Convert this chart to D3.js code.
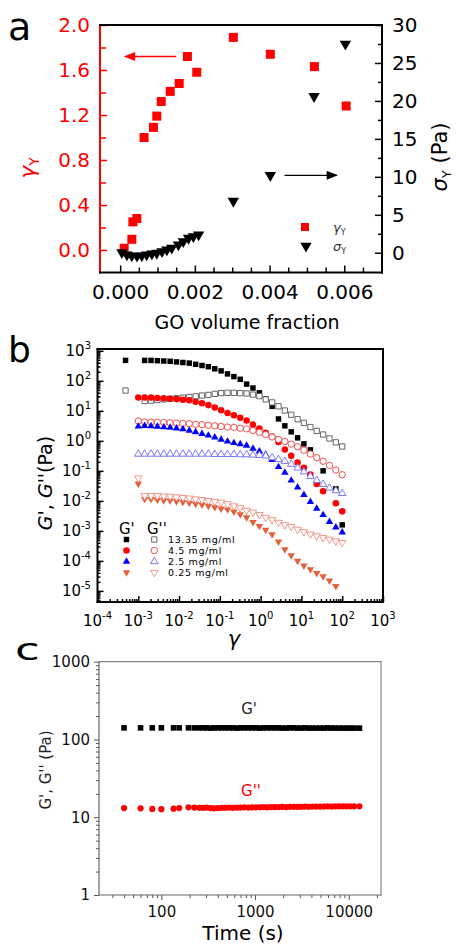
<!DOCTYPE html>
<html>
<head>
<meta charset="utf-8">
<script src="https://cdnjs.cloudflare.com/ajax/libs/d3/7.8.5/d3.min.js"></script>
<style>
body { margin: 0; background: #fff; }
svg text { font-family: "DejaVu Sans", sans-serif; }
</style>
</head>
<body>
<div id="fig"></div>
<script>
// ---------- panel a data ----------
var goFracStrain = [0.000107, 0.000313, 0.00034, 0.000447, 0.00064, 0.00089, 0.00098, 0.0011, 0.00134, 0.00158, 0.0018, 0.00205, 0.00303, 0.00402, 0.0052, 0.00605];
var yieldStrain  = [0.015, 0.095, 0.25, 0.28, 1.0, 1.09, 1.19, 1.32, 1.41, 1.48, 1.72, 1.58, 1.89, 1.74, 1.63, 1.28];
var goFracStress = [0.000046, 0.00018, 0.00031, 0.00045, 0.00058, 0.00071, 0.00085, 0.00098, 0.00112, 0.00125, 0.00138, 0.00156, 0.00169, 0.00183, 0.00196, 0.0021, 0.00303, 0.00402, 0.00519, 0.00603];
var yieldStress  = [0.04, -0.26, -0.39, -0.43, -0.39, -0.26, -0.13, -0.04, 0.17, 0.39, 0.62, 1.05, 1.49, 1.93, 2.14, 2.37, 6.8, 10.2, 20.6, 27.5];
var strainTicks = [0, 0.4, 0.8, 1.2, 1.6, 2.0];
var stressTicks = [0, 5, 10, 15, 20, 25, 30];
var fracTicks = [0, 0.002, 0.004, 0.006];

// ---------- panel b data (log10 of modulus in Pa; null = no marker) ----------
var strain = [4.87e-4, 6.98e-4, 1.00e-3, 1.43e-3, 2.05e-3, 2.94e-3, 4.22e-3, 6.04e-3, 8.66e-3, 0.0124,
  0.0178, 0.0255, 0.0365, 0.0523, 0.0750, 0.1075, 0.154, 0.221, 0.316, 0.453,
  0.649, 0.931, 1.33, 1.91, 2.74, 3.92, 5.62, 8.06, 11.5, 16.6,
  23.7, 34.0, 48.7, 69.8, 100];
var logGp13 = [2.68, null, null, 2.68, 2.68, 2.67, 2.66, 2.65, 2.63, 2.61, 2.59, 2.55, 2.51, 2.47, 2.40, 2.33, 2.23, 2.14, 2.05, 1.89, 1.76, 1.60, 1.40, 1.15, 0.73, 0.50, 0.30, 0.10, -0.10, -0.30, null, -1.0, null, -1.6, -2.8];
var logGpp13 = [1.677, null, null, 1.33, 1.34, 1.36, 1.38, 1.40, 1.42, 1.44, 1.46, 1.48, 1.51, 1.53, 1.565, 1.59, 1.60, 1.60, 1.59, 1.58, 1.54, 1.49, 1.38, 1.28, 1.15, 1.01, 0.87, 0.72, 0.60, 0.46, 0.33, 0.21, 0.08, -0.05, -0.19];
var logGp45 = [null, null, 1.443, 1.443, 1.44, 1.43, 1.42, 1.405, 1.39, 1.37, 1.35, 1.30, 1.25, 1.19, 1.11, 1.02, 0.93, 0.85, 0.77, 0.68, 0.54, 0.41, 0.27, 0.14, -0.04, -0.29, -0.50, -0.72, -0.90, -1.12, -1.44, -1.68, null, -2.08, -2.35];
var logGpp45 = [null, null, 0.66, 0.63, 0.62, 0.62, 0.61, 0.60, 0.59, 0.58, 0.57, 0.55, 0.54, 0.52, 0.50, 0.48, 0.46, 0.45, 0.42, 0.40, 0.34, 0.28, 0.21, 0.13, 0.05, -0.02, -0.11, -0.20, -0.31, -0.44, -0.56, -0.68, -0.82, -0.97, -1.13];
var logGp25 = [null, null, 0.48, 0.50, 0.49, 0.475, 0.455, 0.44, 0.42, 0.39, 0.345, 0.29, 0.235, 0.18, 0.115, 0.04, -0.02, -0.07, -0.11, -0.16, -0.26, -0.35, -0.46, -0.63, -0.87, -1.06, -1.32, -1.55, -1.80, -2.03, -2.26, -2.47, -2.70, -2.88, -3.05];
var logGpp25 = [null, null, -0.44, -0.44, -0.44, -0.44, -0.44, -0.44, -0.44, -0.44, -0.44, -0.44, -0.44, -0.44, -0.45, -0.45, -0.45, -0.45, -0.46, -0.46, -0.47, -0.48, -0.50, -0.56, -0.62, -0.68, -0.78, -0.90, -1.03, -1.18, -1.32, -1.45, -1.57, -1.66, -1.75];
var logGp025 = [null, null, -1.43, -1.94, -1.94, -1.965, -1.985, -1.99, -2.02, -2.04, -2.065, -2.10, -2.13, -2.17, -2.215, -2.26, -2.29, -2.36, -2.45, -2.55, -2.71, -2.84, -2.97, -3.12, -3.36, -3.62, -3.82, -4.00, -4.16, -4.28, -4.41, -4.52, -4.66, -4.84, null];
var logGpp025 = [null, null, -1.24, -1.83, -1.83, -1.83, -1.84, -1.85, -1.87, -1.89, -1.91, -1.94, -1.96, -1.99, -2.02, -2.05, -2.10, -2.17, -2.23, -2.32, -2.38, -2.46, -2.55, -2.63, -2.72, -2.80, -2.86, -2.95, -3.03, -3.11, -3.17, -3.23, -3.28, -3.34, -3.39];
var concLabels = ["13.35 mg/ml", "4.5 mg/ml", "2.5 mg/ml", "0.25 mg/ml"];
var decadesX = [-4, -3, -2, -1, 0, 1, 2, 3];
var decadesY = [-5, -4, -3, -2, -1, 0, 1, 2, 3];

// ---------- panel c data ----------
var timeS = [40, 60, 80, 100, 135, 155, 195, 225, 255, 280, 305, 335, 365, 400, 440, 480, 530, 580, 640, 700,
  770, 850, 930, 1020, 1120, 1230, 1350, 1480, 1620, 1780, 1950, 2140, 2350, 2580, 2830, 3100, 3400, 3730, 4100, 4500,
  4940, 5420, 5950, 6530, 7170, 7870, 8640, 9480, 10400, 11400, 13000];
var gPrime = [141, 141, 141, 141, 141, 141, 141, 141, 141, 141, 141, 140, 141, 141, 141, 141, 141, 141, 140, 141,
  141, 141, 141, 141, 140, 141, 141, 141, 141, 141, 140, 140, 141, 141, 140, 140, 141, 140, 140, 140,
  140, 140, 141, 140, 140, 140, 140, 140, 140, 140, 140];
var gDouble = [13.1, 13.0, 12.8, 12.7, 12.9, 13.1, 13.4, 13.3, 13.2, 13.2, 13.3, 13.1, 13.0, 13.1, 13.2, 13.2, 13.3, 13.2, 13.3, 13.3,
  13.4, 13.3, 13.4, 13.4, 13.4, 13.5, 13.4, 13.5, 13.5, 13.5, 13.6, 13.5, 13.6, 13.6, 13.6, 13.6, 13.7, 13.6, 13.7, 13.7,
  13.7, 13.7, 13.8, 13.7, 13.8, 13.8, 13.8, 13.8, 13.8, 13.8, 13.8];
var timeTicks = [100, 1000, 10000];
var modTicks = [1, 10, 100, 1000];

var svg = d3.select("#fig").append("svg")
    .attr("width", 457)
    .attr("height", 945);

function styleAxis(g, color, fs) {
    g.select(".domain").remove();
    g.selectAll(".tick line").attr("stroke", color).attr("stroke-width", 1.5);
    g.selectAll(".tick text").attr("fill", color).attr("font-size", fs)
        .attr("font-family", "DejaVu Sans, sans-serif");
}

function boxLines(g, x0, x1, y0, y1, colors, w) {
    // colors: [left, bottom, right, top]
    var segs = [[x0, y0, x0, y1], [x0, y1, x1, y1], [x1, y0, x1, y1], [x0, y0, x1, y0]];
    segs.forEach(function (s, i) {
        g.append("line").attr("x1", s[0]).attr("y1", s[1]).attr("x2", s[2]).attr("y2", s[3])
            .attr("stroke", colors[i]).attr("stroke-width", w).attr("stroke-linecap", "square");
    });
}

// ===================== panel a =====================
var xA = d3.scaleLinear().domain([-0.00054, 0.00701]).range([100, 382]);
var yAL = d3.scaleLinear().domain([-0.2, 2.0]).range([272.5, 25]);
var yAR = d3.scaleLinear().domain([-2.6, 30]).range([272.5, 25]);
var ga = svg.append("g");

var strainPts = goFracStrain.map(function (x, i) { return { x: x, y: yieldStrain[i] }; });
var stressPts = goFracStress.map(function (x, i) { return { x: x, y: yieldStress[i] }; });

ga.selectAll(".sqA").data(strainPts).enter().append("rect")
    .attr("x", d => xA(d.x) - 4.5)
    .attr("y", d => yAL(d.y) - 4.5)
    .attr("width", 9).attr("height", 9)
    .attr("fill", "#ff0000");

var triDown = d3.symbol().type(d3.symbolTriangle).size(56);
ga.selectAll(".triA").data(stressPts).enter().append("path")
    .attr("d", triDown)
    .attr("transform", d => `translate(${xA(d.x)},${yAR(d.y)}) rotate(180)`)
    .attr("fill", "#000");

// axes of panel a
ga.append("g").attr("transform", "translate(100,0)")
    .call(d3.axisLeft(yAL).tickValues([0.2, 0.6, 1.0, 1.4, 1.8]).tickFormat("").tickSize(-6))
    .call(styleAxis, "#ff0000", 20);
ga.append("g").attr("transform", "translate(100,0)")
    .call(d3.axisLeft(yAL).tickValues(strainTicks).tickFormat(d3.format(".1f")).tickSize(-7).tickPadding(10))
    .call(styleAxis, "#ff0000", 20);
ga.append("g").attr("transform", "translate(382,0)")
    .call(d3.axisRight(yAR).tickValues([2.5, 7.5, 12.5, 17.5, 22.5, 27.5]).tickFormat("").tickSize(-4))
    .call(styleAxis, "#000", 20);
ga.append("g").attr("transform", "translate(382,0)")
    .call(d3.axisRight(yAR).tickValues(stressTicks).tickFormat(d3.format("d")).tickSize(-7).tickPadding(10))
    .call(styleAxis, "#000", 20);
ga.append("g").attr("transform", "translate(0,272.5)")
    .call(d3.axisBottom(xA).tickValues([0.0005, 0.001, 0.0015, 0.0025, 0.003, 0.0035, 0.0045, 0.005, 0.0055, 0.0065]).tickFormat("").tickSize(-5))
    .call(styleAxis, "#000", 20);
ga.append("g").attr("transform", "translate(0,272.5)")
    .call(d3.axisBottom(xA).tickValues(fracTicks).tickFormat(d3.format(".3f")).tickSize(-7).tickPadding(12))
    .call(styleAxis, "#000", 20);
boxLines(ga, 100, 382, 25, 272.5, ["#ff0000", "#000", "#000", "#000"], 2);

// arrows
var defs = svg.append("defs");
[["headRed", "#ff0000"], ["headBlack", "#000"]].forEach(function (m) {
    defs.append("marker").attr("id", m[0]).attr("viewBox", "0 0 10 8")
        .attr("refX", 9).attr("refY", 4).attr("markerWidth", 14).attr("markerHeight", 9)
        .attr("markerUnits", "userSpaceOnUse").attr("orient", "auto")
        .append("path").attr("d", "M0,0 L10,4 L0,8 Z").attr("fill", m[1]);
});
ga.append("line")
    .attr("x1", xA(0.0015)).attr("x2", xA(0.00013))
    .attr("y1", yAL(1.72)).attr("y2", yAL(1.72))
    .attr("stroke", "#ff0000").attr("stroke-width", 1.3).attr("marker-end", "url(#headRed)");
ga.append("line")
    .attr("x1", xA(0.0044)).attr("x2", xA(0.0058))
    .attr("y1", yAR(10.2)).attr("y2", yAR(10.2))
    .attr("stroke", "#000").attr("stroke-width", 1.3).attr("marker-end", "url(#headBlack)");

// legend a
ga.append("rect").attr("x", 301).attr("y", 223).attr("width", 8).attr("height", 8).attr("fill", "#ff0000");
ga.append("path").attr("d", triDown).attr("transform", "translate(306,246) rotate(180)").attr("fill", "#000");
var lgA1 = ga.append("text").attr("x", 333).attr("y", 232).attr("font-size", 13).attr("fill", "#333");
lgA1.append("tspan").attr("font-style", "italic").text("γ");
lgA1.append("tspan").attr("font-size", 8).attr("dy", 3).text("Y");
var lgA2 = ga.append("text").attr("x", 333).attr("y", 251).attr("font-size", 13).attr("fill", "#333");
lgA2.append("tspan").attr("font-style", "italic").text("σ");
lgA2.append("tspan").attr("font-size", 8).attr("dy", 3).text("Y");

// titles a
var tYL = ga.append("text").attr("transform", "translate(35,168) rotate(-90)")
    .attr("text-anchor", "middle").attr("font-size", 22).attr("fill", "#ff0000");
tYL.append("tspan").attr("font-style", "italic").text("γ");
tYL.append("tspan").attr("font-size", 14).attr("dy", 4).text("Y");
var tYR = ga.append("text").attr("transform", "translate(447,157) rotate(-90)")
    .attr("text-anchor", "middle").attr("font-size", 21).attr("fill", "#000");
tYR.append("tspan").attr("font-style", "italic").text("σ");
tYR.append("tspan").attr("font-size", 13).attr("dy", 4).text("Y");
tYR.append("tspan").attr("dy", -4).text(" (Pa)");
ga.append("text").attr("x", 247).attr("y", 329).attr("text-anchor", "middle")
    .attr("font-size", 19).text("GO volume fraction");
ga.append("text").attr("x", 8).attr("y", 40).attr("font-size", 38).text("a");

// ===================== panel b =====================
var xB = d3.scaleLog().domain([1e-4, 1e3]).range([97.5, 383]);
var yB = d3.scaleLog().domain([Math.pow(10, -5.37), Math.pow(10, 3.06)]).range([602, 349]);
var gb = svg.append("g");

var seriesB = [
    { vals: logGp13, type: d3.symbolSquare, size: 30, fill: "#000", stroke: "none", rot: 0 },
    { vals: logGpp13, type: d3.symbolSquare, size: 28, fill: "#fff", stroke: "#555", rot: 0 },
    { vals: logGp45, type: d3.symbolCircle, size: 34, fill: "#ff0000", stroke: "none", rot: 0 },
    { vals: logGpp45, type: d3.symbolCircle, size: 32, fill: "#fff", stroke: "#ee3b3b", rot: 0 },
    { vals: logGp25, type: d3.symbolTriangle, size: 24, fill: "#0000ff", stroke: "none", rot: 0 },
    { vals: logGpp25, type: d3.symbolTriangle, size: 24, fill: "#fff", stroke: "#6b6bf0", rot: 0 },
    { vals: logGp025, type: d3.symbolTriangle, size: 24, fill: "#e2603c", stroke: "none", rot: 180 },
    { vals: logGpp025, type: d3.symbolTriangle, size: 24, fill: "#fff", stroke: "#f08c7c", rot: 180 }
];

seriesB.forEach(function (s) {
    var pts = strain.map(function (g, i) { return { x: g, v: s.vals[i] }; })
        .filter(function (d) { return d.v !== null; });
    gb.selectAll(null).data(pts).enter().append("path")
        .attr("d", d3.symbol().type(s.type).size(s.size))
        .attr("transform", d => `translate(${xB(d.x)},${yB(Math.pow(10, d.v))}) rotate(${s.rot})`)
        .attr("fill", s.fill)
        .attr("stroke", s.stroke)
        .attr("stroke-width", 0.9);
});

// legend b
gb.append("text").attr("x", 119).attr("y", 534).attr("font-size", 15).text("G'");
gb.append("text").attr("x", 147).attr("y", 534).attr("font-size", 15).text("G''");
var rowsY = [539.5, 550.5, 561.5, 572.5];
concLabels.forEach(function (lab, i) {
    var f = seriesB[2 * i], o = seriesB[2 * i + 1];
    gb.append("path").attr("d", d3.symbol().type(f.type).size(f.size))
        .attr("transform", `translate(126.5,${rowsY[i]}) rotate(${f.rot})`).attr("fill", f.fill);
    gb.append("path").attr("d", d3.symbol().type(o.type).size(o.size))
        .attr("transform", `translate(154.3,${rowsY[i]}) rotate(${o.rot})`)
        .attr("fill", "#fff").attr("stroke", o.stroke).attr("stroke-width", 0.9);
    gb.append("text").attr("x", 168).attr("y", rowsY[i] + 3.5).attr("font-size", 9.5)
        .attr("letter-spacing", 0.6).text(lab);
});

// axes b
var xTicksB = xB.ticks();
var yTicksB = yB.ticks();
function isDecade(v) { return Math.abs(Math.log10(v) - Math.round(Math.log10(v))) < 1e-6; }
gb.append("g").attr("transform", "translate(0,602)")
    .call(d3.axisBottom(xB).tickValues(xTicksB.filter(v => !isDecade(v))).tickFormat("").tickSize(-3))
    .call(styleAxis, "#000", 14);
gb.append("g").attr("transform", "translate(0,602)")
    .call(d3.axisBottom(xB).tickValues(xTicksB.filter(isDecade)).tickFormat("").tickSize(-6))
    .call(styleAxis, "#000", 14);
gb.append("g").attr("transform", "translate(97.5,0)")
    .call(d3.axisLeft(yB).tickValues(yTicksB.filter(v => !isDecade(v))).tickFormat("").tickSize(-3))
    .call(styleAxis, "#000", 14);
gb.append("g").attr("transform", "translate(97.5,0)")
    .call(d3.axisLeft(yB).tickValues(yTicksB.filter(isDecade)).tickFormat("").tickSize(-6))
    .call(styleAxis, "#000", 14);
boxLines(gb, 97.5, 383, 349, 602, ["#000", "#000", "#000", "#000"], 2);

decadesX.forEach(function (e) {
    var t = gb.append("text").attr("x", xB(Math.pow(10, e))).attr("y", 626)
        .attr("text-anchor", "middle").attr("font-size", 15);
    t.append("tspan").text("10");
    t.append("tspan").attr("font-size", 10).attr("dy", -7).text(String(e));
});
decadesY.forEach(function (e) {
    var t = gb.append("text").attr("x", 91).attr("y", yB(Math.pow(10, e)) + 5)
        .attr("text-anchor", "end").attr("font-size", 15);
    t.append("tspan").text("10");
    t.append("tspan").attr("font-size", 10).attr("dy", -7).text(String(e));
});

var tB = gb.append("text").attr("transform", "translate(52,483) rotate(-90)")
    .attr("text-anchor", "middle").attr("font-size", 19);
tB.append("tspan").attr("font-style", "italic").text("G'");
tB.append("tspan").text(", ");
tB.append("tspan").attr("font-style", "italic").text("G''");
tB.append("tspan").text("(Pa)");
gb.append("text").attr("x", 234).attr("y", 646).attr("text-anchor", "middle")
    .attr("font-size", 21).attr("font-style", "italic").text("γ");
gb.append("text").attr("x", 8).attr("y", 362).attr("font-size", 36).text("b");

// ===================== panel c =====================
var xC = d3.scaleLog().domain([21.6, 22100]).range([99, 381]);
var yC = d3.scaleLog().domain([1, 1000]).range([895, 661.7]);
var gc = svg.append("g");

gc.selectAll(".gp").data(timeS).enter().append("rect")
    .attr("x", (d) => xC(d) - 2.8)
    .attr("y", (d, i) => yC(gPrime[i]) - 2.8)
    .attr("width", 5.6).attr("height", 5.6)
    .attr("fill", "#000");
gc.selectAll(".gpp").data(timeS).enter().append("circle")
    .attr("cx", (d) => xC(d))
    .attr("cy", (d, i) => yC(gDouble[i]))
    .attr("r", 3.1)
    .attr("fill", "#ff0000");

var xTicksC = xC.ticks();
var yTicksC = yC.ticks();
gc.append("g").attr("transform", "translate(0,895)")
    .call(d3.axisBottom(xC).tickValues(xTicksC.filter(v => !isDecade(v))).tickFormat("").tickSize(3))
    .call(styleAxis, "#555", 15);
gc.append("g").attr("transform", "translate(0,895)")
    .call(d3.axisBottom(xC).tickValues(timeTicks).tickFormat(d3.format("d")).tickSize(5).tickPadding(6))
    .call(styleAxis, "#555", 15);
gc.append("g").attr("transform", "translate(99,0)")
    .call(d3.axisLeft(yC).tickValues(yTicksC.filter(v => !isDecade(v))).tickFormat("").tickSize(3))
    .call(styleAxis, "#555", 15);
gc.append("g").attr("transform", "translate(99,0)")
    .call(d3.axisLeft(yC).tickValues(modTicks).tickFormat(d3.format("d")).tickSize(5).tickPadding(4))
    .call(styleAxis, "#555", 15);
gc.selectAll(".tick line").attr("stroke-width", 1);
gc.selectAll(".tick text").attr("fill", "#111");
boxLines(gc, 99, 381, 661.7, 895, ["#666", "#666", "#888", "#888"], 1.2);

gc.append("text").attr("x", xC(1000) - 6).attr("y", yC(141) - 14).attr("text-anchor", "middle")
    .attr("font-size", 15).attr("fill", "#222").text("G'");
gc.append("text").attr("x", xC(1000) - 4).attr("y", yC(13.6) - 11).attr("text-anchor", "middle")
    .attr("font-size", 15).attr("fill", "#ff0000").text("G''");
gc.append("text").attr("transform", "translate(51,770) rotate(-90)")
    .attr("text-anchor", "middle").attr("font-size", 15).attr("fill", "#222").text("G', G'' (Pa)");
gc.append("text").attr("x", 243).attr("y", 940).attr("text-anchor", "middle")
    .attr("font-size", 20).text("Time (s)");
gc.append("text").attr("transform", "translate(15,660) scale(1.25,0.82)")
    .attr("font-size", 36).text("c");
</script>
</body>
</html>
